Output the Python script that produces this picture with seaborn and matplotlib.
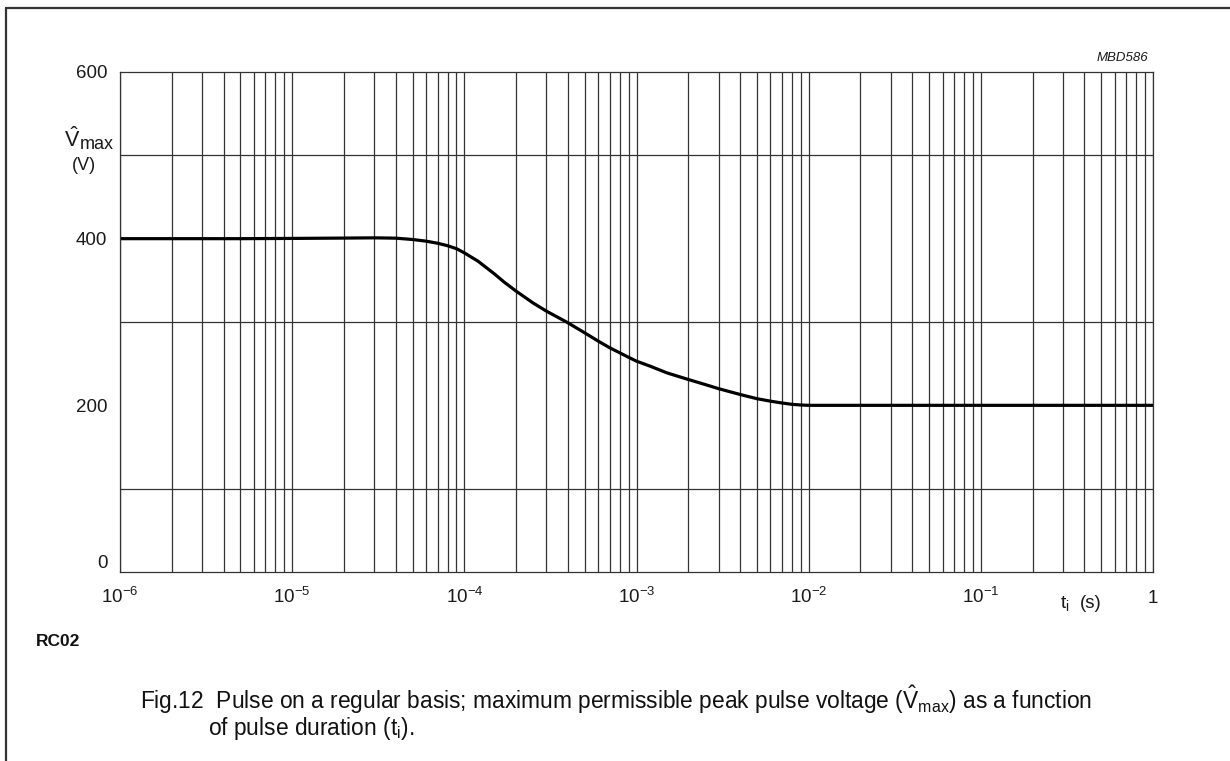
import numpy as np
import pandas as pd
import matplotlib
matplotlib.use('Agg')
import matplotlib.pyplot as plt
import seaborn as sns
from matplotlib.lines import Line2D

# curve
t_i = [1e-6, 2e-6, 5e-6, 1e-5, 2e-5, 3e-5, 4e-5, 5e-5, 6e-5, 7e-5, 8e-5, 9e-5,
       1e-4, 1.2e-4, 1.5e-4, 1.7e-4, 2e-4, 2.5e-4, 3e-4, 4e-4, 5e-4, 6e-4, 7e-4, 8e-4, 9e-4,
       1e-3, 1.2e-3, 1.5e-3, 2e-3, 2.5e-3, 3e-3, 4e-3, 5e-3, 6e-3, 7e-3, 8e-3, 9e-3,
       1e-2, 1e-1, 1]
v_max = [400, 400, 400, 400.3, 400.7, 401, 400.6, 399, 397, 394.5, 391.5, 388,
         383, 373, 357.5, 348, 337, 323, 313, 299, 287, 277, 269, 263, 257.6,
         253, 247, 239, 231, 225, 220, 213, 208, 205, 202.8, 201.2, 200.4,
         200, 200, 200]

xticks = [1e-6, 1e-5, 1e-4, 1e-3, 1e-2, 1e-1, 1]
xticklabels = ['$10^{-6}$', '$10^{-5}$', '$10^{-4}$', '$10^{-3}$', '$10^{-2}$', '$10^{-1}$', '$1$']
yticks = [0, 200, 400, 600]

df = pd.DataFrame({'t': t_i, 'v': v_max})

sns.set_theme(style='white')
plt.rcParams['font.family'] = ['Liberation Sans', 'DejaVu Sans']
plt.rcParams['mathtext.fontset'] = 'custom'
plt.rcParams['mathtext.rm'] = 'Liberation Sans'
plt.rcParams['mathtext.it'] = 'Liberation Sans:italic'
plt.rcParams['mathtext.bf'] = 'Liberation Sans:bold'

W, H = 1230, 761
fig = plt.figure(figsize=(W / 100, H / 100), dpi=100)
ax = fig.add_axes([120 / W, 1 - 572 / H, (1153 - 120) / W, (572 - 72) / H])

gc = '#333333'
tc = '#1a1a1a'
ax.set_xscale('log')
ax.set_xlim(1e-6, 1)
ax.set_ylim(0, 600)
ax.set_yticks(np.arange(0, 601, 100), minor=True)
ax.grid(True, which='both', axis='x', color=gc, lw=0.9)
ax.grid(True, which='minor', axis='y', color=gc, lw=0.9)
ax.set_axisbelow(True)

sns.lineplot(data=df, x='t', y='v', color='black', lw=2.3, ax=ax)

ax.set_xticks(xticks)
ax.set_xticklabels(xticklabels)
ax.set_yticks(yticks)
ax.set_yticklabels([str(v) for v in yticks])
ax.set_xlabel('')
ax.set_ylabel('')
ax.tick_params(axis='both', which='major', labelsize=13.5, colors=tc,
               length=2, width=0.8, direction='out')
ax.tick_params(axis='x', which='minor', length=0)
ax.tick_params(axis='x', which='major', pad=22, length=0)
ax.tick_params(axis='y', which='minor', length=0)
ax.tick_params(axis='y', pad=7)
for lab in ax.get_xticklabels():
    lab.set_va('baseline')
ax.get_yticklabels()[0].set_va('bottom')
for s in ax.spines.values():
    s.set_color(gc)
    s.set_linewidth(0.9)

# axis labels placed like the datasheet
fig.text(80 / W, 1 - 147 / H, r'$\hat{\mathrm{V}}$', fontsize=15.5,
         ha='right', va='baseline', color=tc)
fig.text(80 / W, 1 - 149 / H, 'max', fontsize=13, ha='left', va='baseline', color=tc)
fig.text(84 / W, 1 - 165 / H, '(V)', fontsize=13, ha='center', va='center', color=tc)
fig.text(1060 / W, 1 - 608 / H, r'$\mathrm{t}_{\mathrm{i}}$', fontsize=14,
         ha='left', va='baseline', color=tc)
fig.text(1080 / W, 1 - 608 / H, '(s)', fontsize=13.5, ha='left', va='baseline', color=tc)
fig.text(1148 / W, 1 - 58 / H, 'MBD586', fontsize=9.5, style='italic',
         ha='right', va='center', color=tc)
fig.text(36 / W, 1 - 642 / H, 'RC02', fontsize=12.5, fontweight='bold',
         ha='left', va='center', color='#111111')

fig.text(140 / W, 1 - 700 / H,
         r'Fig.12  Pulse on a regular basis; maximum permissible peak pulse voltage ($\hat{\mathrm{V}}_{\mathrm{max}}$) as a function',
         fontsize=16.4, ha='left', va='center', color='#111111')
fig.text(208 / W, 1 - 728 / H, r'of pulse duration (t$_{\mathrm{i}}$).',
         fontsize=16.4, ha='left', va='center', color='#111111')

# page frame (left and top edge)
fig.add_artist(Line2D([6 / W, 6 / W], [0, 1 - 8 / H], color='#333333', lw=1.6))
fig.add_artist(Line2D([6 / W, 1], [1 - 8 / H, 1 - 8 / H], color='#333333', lw=1.6))

fig.savefig('out.png', dpi=100)
